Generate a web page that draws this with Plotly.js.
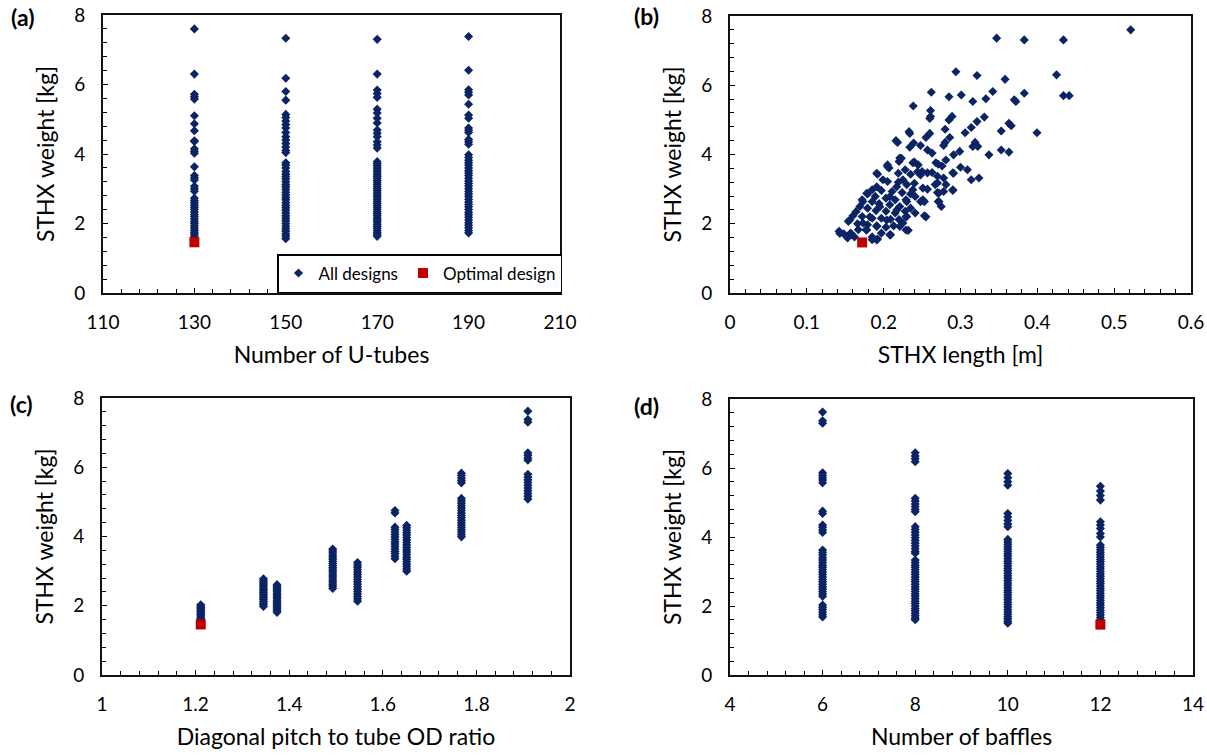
<!DOCTYPE html>
<html>
<head>
<meta charset="utf-8">
<script src="https://cdn.plot.ly/plotly-3.0.1.min.js"></script>
<style>html,body{margin:0;padding:0;background:#fff;}#chart{width:1207px;height:755px;}</style>
</head>
<body>
<div id="chart"></div>
<script>
// ---------- DATA ----------
// (a) STHX weight [kg] by number of U-tubes
const uTubeCounts = [130, 150, 170, 190];
const wU130 = [7.6, 6.3, 5.72, 5.65, 5.58, 5.1, 4.87, 4.67, 4.38, 4.36, 4.15, 4.08, 4.02, 3.63, 3.38, 3.32, 3.25, 3.07, 3.0, 2.93, 2.73, 2.66, 2.6, 2.53, 2.46, 2.4, 2.33, 2.26, 2.2, 2.13, 2.06, 2.0, 1.93, 1.86, 1.8, 1.74, 1.68, 1.62];
const wU150 = [7.33, 6.18, 5.8, 5.55, 5.14, 5.05, 4.95, 4.85, 4.75, 4.62, 4.5, 4.4, 4.3, 4.2, 4.1, 4.04, 3.75, 3.68, 3.6, 3.5, 3.42, 3.35, 3.28, 3.2, 3.12, 3.05, 2.98, 2.9, 2.82, 2.75, 2.68, 2.6, 2.52, 2.45, 2.38, 2.3, 2.22, 2.15, 2.08, 2.0, 1.92, 1.85, 1.78, 1.7, 1.63, 1.56];
const wU170 = [7.3, 6.3, 5.84, 5.74, 5.63, 5.29, 5.18, 5.03, 4.89, 4.69, 4.6, 4.5, 4.35, 4.26, 4.17, 3.78, 3.72, 3.66, 3.6, 3.54, 3.48, 3.42, 3.36, 3.3, 3.24, 3.18, 3.12, 3.06, 3.0, 2.94, 2.88, 2.82, 2.76, 2.7, 2.64, 2.58, 2.52, 2.46, 2.4, 2.34, 2.28, 2.22, 2.16, 2.1, 2.04, 1.98, 1.92, 1.86, 1.8, 1.74, 1.68, 1.63];
const wU190 = [7.38, 6.41, 5.85, 5.78, 5.7, 5.43, 5.12, 5.03, 4.75, 4.68, 4.62, 4.42, 4.35, 4.28, 3.98, 3.9, 3.82, 3.75, 3.68, 3.6, 3.52, 3.45, 3.38, 3.3, 3.22, 3.15, 3.08, 3.0, 2.92, 2.85, 2.78, 2.7, 2.62, 2.55, 2.48, 2.4, 2.32, 2.25, 2.18, 2.1, 2.02, 1.95, 1.88, 1.8, 1.73];

// (b) STHX weight vs STHX length [m]
const lengthB = [0.5215, 0.347, 0.383, 0.434, 0.294, 0.3215, 0.425, 0.358, 0.262, 0.383, 0.285, 0.301, 0.342, 0.333, 0.316, 0.370, 0.372, 0.434, 0.4415,
  0.2385, 0.261, 0.260, 0.261, 0.289, 0.285, 0.331, 0.3215, 0.314, 0.280, 0.363, 0.366, 0.353, 0.3995, 0.306, 0.233, 0.234, 0.260, 0.255, 0.286,
  0.216, 0.218, 0.239, 0.280, 0.319, 0.3225, 0.316, 0.248, 0.234, 0.257, 0.263, 0.299, 0.291, 0.337, 0.353, 0.363, 0.278,
  0.223, 0.220, 0.240, 0.245, 0.271, 0.276, 0.205, 0.207, 0.228, 0.250, 0.263, 0.300, 0.309, 0.192, 0.219, 0.235, 0.248, 0.270, 0.278, 0.291, 0.324, 0.314,
  0.205, 0.219, 0.230, 0.240, 0.267, 0.281, 0.251, 0.257, 0.290, 0.185, 0.197, 0.211, 0.224, 0.235, 0.241, 0.270, 0.278,
  0.179, 0.189, 0.203, 0.215, 0.230, 0.248, 0.253, 0.271, 0.172, 0.185, 0.194, 0.208, 0.221, 0.235, 0.275,
  0.169, 0.179, 0.190, 0.203, 0.215, 0.228, 0.241, 0.160, 0.172, 0.185, 0.197, 0.209, 0.220, 0.230, 0.253,
  0.154, 0.166, 0.179, 0.191, 0.203, 0.213, 0.225, 0.142, 0.148, 0.157, 0.162, 0.167, 0.177, 0.185, 0.192, 0.197, 0.209, 0.232, 0.153, 0.185,
  0.191, 0.205, 0.221, 0.238, 0.244, 0.257, 0.268, 0.281, 0.290, 0.270, 0.290, 0.272, 0.272, 0.251, 0.255, 0.229, 0.208, 0.191, 0.143,
  0.156, 0.164, 0.173, 0.178, 0.191, 0.199, 0.173, 0.182, 0.195, 0.208, 0.217, 0.225, 0.178, 0.191, 0.204, 0.217, 0.229, 0.238, 0.221, 0.229];
const weightB = [7.6, 7.36, 7.31, 7.31, 6.39, 6.28, 6.30, 6.17, 5.80, 5.77, 5.67, 5.72, 5.82, 5.61, 5.53, 5.58, 5.53, 5.70, 5.70,
  5.40, 5.27, 5.04, 5.10, 5.10, 5.0, 5.08, 4.95, 4.78, 4.73, 4.90, 4.83, 4.68, 4.63, 4.63, 4.66, 4.61, 4.61, 4.49, 4.49,
  4.40, 4.35, 4.33, 4.35, 4.35, 4.23, 4.23, 4.26, 4.21, 4.13, 4.04, 4.09, 3.99, 3.99, 4.13, 4.07, 4.26,
  3.89, 3.80, 3.78, 3.70, 3.72, 3.67, 3.70, 3.61, 3.56, 3.51, 3.48, 3.63, 3.56, 3.43, 3.46, 3.43, 3.41, 3.37, 3.32, 3.46, 3.32, 3.27,
  3.22, 3.20, 3.13, 3.17, 3.13, 3.13, 3.03, 3.0, 2.96, 2.98, 2.96, 2.93, 2.90, 2.86, 2.79, 2.90, 2.93,
  2.86, 2.79, 2.74, 2.69, 2.64, 2.64, 2.64, 2.64, 2.69, 2.64, 2.58, 2.55, 2.50, 2.45, 2.50,
  2.50, 2.45, 2.38, 2.36, 2.31, 2.36, 2.31, 2.23, 2.21, 2.16, 2.16, 2.13, 2.12, 2.21, 2.23,
  2.07, 2.0, 1.97, 1.94, 1.90, 1.94, 2.02, 1.78, 1.71, 1.73, 1.62, 1.83, 1.83, 1.62, 1.56, 1.73, 1.68, 1.81, 1.59, 1.54,
  3.46, 3.65, 3.9, 3.76, 3.5, 3.47, 3.76, 3.84, 3.47, 3.18, 2.98, 2.64, 2.89, 2.69, 2.2, 1.82, 1.68, 1.53, 1.72,
  2.11, 2.35, 2.64, 2.88, 3.07, 3.27, 2.02, 2.2, 2.49, 2.78, 3.07, 3.27, 1.82, 1.92, 2.11, 2.4, 2.69, 2.98, 1.92, 2.2];

// (c) STHX weight by diagonal pitch to tube OD ratio
const pitchRatios = [1.211, 1.345, 1.374, 1.493, 1.546, 1.626, 1.651, 1.768, 1.910];
const wP = [
  [2.03, 1.99, 1.95, 1.91, 1.87, 1.83, 1.79, 1.75, 1.71, 1.67, 1.63, 1.59],
  [2.78, 2.73, 2.68, 2.63, 2.58, 2.53, 2.48, 2.43, 2.38, 2.33, 2.28, 2.23, 2.18, 2.13, 2.08, 2.03, 1.98],
  [2.61, 2.56, 2.51, 2.46, 2.41, 2.36, 2.31, 2.26, 2.21, 2.16, 2.11, 2.06, 2.01, 1.96, 1.91, 1.86, 1.81],
  [3.64, 3.58, 3.52, 3.46, 3.4, 3.34, 3.28, 3.22, 3.16, 3.1, 3.04, 2.98, 2.92, 2.86, 2.8, 2.74, 2.68, 2.62, 2.56, 2.5],
  [3.25, 3.18, 3.11, 3.04, 2.97, 2.9, 2.83, 2.76, 2.69, 2.62, 2.55, 2.48, 2.41, 2.34, 2.27, 2.2, 2.13],
  [4.75, 4.68, 4.27, 4.2, 4.13, 4.06, 3.99, 3.92, 3.85, 3.78, 3.71, 3.64, 3.57, 3.5, 3.43, 3.36],
  [4.32, 4.25, 4.18, 4.11, 4.04, 3.97, 3.9, 3.83, 3.76, 3.69, 3.62, 3.55, 3.48, 3.41, 3.34, 3.27, 3.2, 3.13, 3.06, 3.0],
  [5.83, 5.76, 5.69, 5.62, 5.55, 5.1, 5.03, 4.96, 4.89, 4.82, 4.75, 4.68, 4.61, 4.54, 4.47, 4.4, 4.33, 4.26, 4.19, 4.12, 4.05, 3.99],
  [7.62, 7.38, 7.3, 6.42, 6.35, 6.27, 6.2, 5.8, 5.72, 5.64, 5.56, 5.48, 5.4, 5.32, 5.24, 5.16, 5.08]
];

// (d) STHX weight by number of baffles
const baffleCounts = [6, 8, 10, 12];
const wB6 = [7.62, 7.37, 7.3, 5.86, 5.79, 5.72, 5.65, 5.57, 4.75, 4.68, 4.35, 4.28, 4.2, 4.13, 3.62, 3.55, 3.48, 3.4, 3.33, 3.26, 3.19, 3.12, 3.05, 2.98, 2.91, 2.84, 2.77, 2.7, 2.63, 2.56, 2.49, 2.42, 2.35, 2.28, 2.03, 1.96, 1.89, 1.82, 1.75, 1.68];
const wB8 = [6.44, 6.35, 6.27, 6.18, 5.12, 5.04, 4.96, 4.88, 4.8, 4.73, 4.3, 4.22, 4.14, 4.06, 3.98, 3.9, 3.82, 3.74, 3.66, 3.58, 3.53, 3.33, 3.26, 3.19, 3.12, 3.05, 2.98, 2.91, 2.84, 2.77, 2.7, 2.63, 2.56, 2.49, 2.42, 2.35, 2.28, 2.21, 2.14, 2.07, 2.0, 1.93, 1.86, 1.79, 1.72, 1.65, 1.6];
const wB10 = [5.84, 5.72, 5.6, 5.5, 4.68, 4.58, 4.48, 4.38, 4.3, 3.93, 3.86, 3.79, 3.72, 3.65, 3.58, 3.51, 3.44, 3.37, 3.3, 3.23, 3.16, 3.09, 3.02, 2.95, 2.88, 2.81, 2.74, 2.67, 2.6, 2.53, 2.46, 2.39, 2.32, 2.25, 2.18, 2.11, 2.04, 1.97, 1.9, 1.83, 1.76, 1.69, 1.62, 1.55, 1.5];
const wB12 = [5.47, 5.33, 5.2, 5.07, 4.44, 4.35, 4.25, 4.1, 4.0, 3.77, 3.7, 3.63, 3.56, 3.49, 3.42, 3.35, 3.28, 3.21, 3.14, 3.07, 3.0, 2.93, 2.86, 2.79, 2.72, 2.65, 2.58, 2.51, 2.44, 2.37, 2.3, 2.23, 2.16, 2.09, 2.02, 1.95, 1.88, 1.81, 1.74, 1.67, 1.6, 1.55];

// Optimal design
const optUTubes = 130;
const optLength = 0.172;
const optPitch = 1.211;
const optBaffles = 12;
const optWeight = 1.46;

// Axis labels
const panelLabels = ['(a)', '(b)', '(c)', '(d)'];
const xTitles = ['Number of U-tubes', 'STHX length [m]', 'Diagonal pitch to tube OD ratio', 'Number of baffles'];
const yTitle = 'STHX weight [kg]';
const legendNames = ['All designs', 'Optimal design'];

// ---------- BUILD ----------
function expand(cats, groups) {
  const x = [], y = [];
  cats.forEach((c, i) => groups[i].forEach(v => { x.push(c); y.push(v); }));
  return {x, y};
}
const A = expand(uTubeCounts, [wU130, wU150, wU170, wU190]);
const C = expand(pitchRatios, wP);
const D = expand(baffleCounts, [wB6, wB8, wB10, wB12]);

const NAVY = '#0b2463';
const RED = '#c00000';
const allMarker = {symbol: 'diamond', size: 7, color: NAVY};
const optMarker = {symbol: 'square', size: 10, color: RED};

function pair(x, y, ox, oy, xa, ya, legend) {
  return [
    {type: 'scatter', mode: 'markers', x: x, y: y, xaxis: xa, yaxis: ya, marker: allMarker, name: legendNames[0], showlegend: legend, hoverinfo: 'skip'},
    {type: 'scatter', mode: 'markers', x: [ox], y: [oy], xaxis: xa, yaxis: ya, marker: optMarker, name: legendNames[1], showlegend: legend, hoverinfo: 'skip'}
  ];
}

const data = [].concat(
  pair(A.x, A.y, optUTubes, optWeight, 'x', 'y', true),
  pair(lengthB, weightB, optLength, optWeight, 'x2', 'y2', false),
  pair(C.x, C.y, optPitch, optWeight, 'x3', 'y3', false),
  pair(D.x, D.y, optBaffles, optWeight, 'x4', 'y4', false)
);

const W = 1207, H = 755;
function xaxis(range, dtick, minor, px0, px1, anchor, title) {
  return {
    range: range, dtick: dtick, tick0: range[0], domain: [px0 / W, px1 / W], anchor: anchor,
    showline: true, linecolor: '#111', linewidth: 1.8, mirror: true,
    ticks: 'inside', ticklen: 5, tickwidth: 1, tickcolor: '#000',
    minor: {dtick: minor, tick0: range[0], ticks: 'inside', ticklen: 4, tickwidth: 1, tickcolor: '#000', showgrid: false},
    showgrid: false, zeroline: false, fixedrange: true,
    tickfont: {size: 19, color: '#000'}, ticklabelstandoff: 11,
    title: {text: title, font: {size: 23, color: '#000'}, standoff: 15}
  };
}
function yaxis(py0, py1, anchor) {
  return {
    range: [0, 8], dtick: 2, tick0: 0, domain: [1 - py1 / H, 1 - py0 / H], anchor: anchor,
    showline: true, linecolor: '#111', linewidth: 1.8, mirror: true,
    ticks: 'inside', ticklen: 5, tickwidth: 1, tickcolor: '#000',
    minor: {dtick: 0.4, tick0: 0, ticks: 'inside', ticklen: 4, tickwidth: 1, tickcolor: '#000', showgrid: false},
    showgrid: false, zeroline: false, fixedrange: true,
    tickfont: {size: 19, color: '#000'}, ticklabelstandoff: 12,
    title: {text: yTitle, font: {size: 23, color: '#000'}, standoff: 13}
  };
}

const layout = {
  width: W, height: H,
  margin: {l: 0, r: 0, t: 0, b: 0},
  paper_bgcolor: '#fff', plot_bgcolor: '#fff',
  font: {family: 'Lato, "Open Sans", sans-serif', color: '#000', size: 19},
  xaxis: xaxis([110, 210], 20, 4, 103, 560, 'y', xTitles[0]),
  yaxis: yaxis(15, 293, 'x'),
  xaxis2: xaxis([0, 0.6], 0.1, 0.02, 730, 1191, 'y2', xTitles[1]),
  yaxis2: yaxis(16, 293, 'x2'),
  xaxis3: xaxis([1, 2], 0.2, 0.04, 102, 570, 'y3', xTitles[2]),
  yaxis3: yaxis(398, 675, 'x3'),
  xaxis4: xaxis([4, 14], 2, 0.4, 730, 1193, 'y4', xTitles[3]),
  yaxis4: yaxis(399, 675, 'x4'),
  showlegend: true,
  legend: {
    orientation: 'h', x: 277 / W, y: 1 - 254 / H, xanchor: 'left', yanchor: 'top',
    bordercolor: '#000', borderwidth: 1.5, bgcolor: '#fff',
    font: {size: 17, color: '#000'}, itemwidth: 30, itemclick: false, itemdoubleclick: false
  },
  annotations: [
    {text: '<b>' + panelLabels[0] + '</b>', xref: 'paper', yref: 'paper', x: 22 / W, y: 1 - 17 / H, showarrow: false, font: {size: 23}, xanchor: 'center', yanchor: 'middle'},
    {text: '<b>' + panelLabels[1] + '</b>', xref: 'paper', yref: 'paper', x: 647 / W, y: 1 - 16 / H, showarrow: false, font: {size: 23}, xanchor: 'center', yanchor: 'middle'},
    {text: '<b>' + panelLabels[2] + '</b>', xref: 'paper', yref: 'paper', x: 21 / W, y: 1 - 404 / H, showarrow: false, font: {size: 23}, xanchor: 'center', yanchor: 'middle'},
    {text: '<b>' + panelLabels[3] + '</b>', xref: 'paper', yref: 'paper', x: 647 / W, y: 1 - 406 / H, showarrow: false, font: {size: 23}, xanchor: 'center', yanchor: 'middle'}
  ]
};

Plotly.newPlot('chart', data, layout, {staticPlot: true, displayModeBar: false});
</script>
</body>
</html>
